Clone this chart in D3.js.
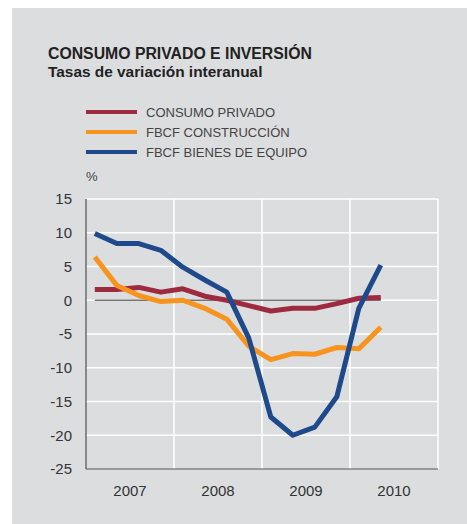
<!DOCTYPE html>
<html>
<head>
<meta charset="utf-8">
<script src="https://cdn.jsdelivr.net/npm/d3@7"></script>
<style>
  body { margin: 0; background: #fff; }
  text { font-family: "Liberation Sans", Arial, sans-serif; }
</style>
</head>
<body>
<div id="chart"></div>
<script>
// quarterly data, 2007 Q1 .. 2010 Q2
const quarters = ["I-07","II-07","III-07","IV-07","I-08","II-08","III-08","IV-08",
                  "I-09","II-09","III-09","IV-09","I-10","II-10"];
const years = ["2007", "2008", "2009", "2010"];
const yTicks = [15, 10, 5, 0, -5, -10, -15, -20, -25];

const consumo = [1.6, 1.6, 1.9, 1.2, 1.7, 0.6, 0.0, -0.8, -1.6, -1.2, -1.2, -0.5, 0.3, 0.4];
const construccion = [6.4, 2.2, 0.7, -0.2, 0.0, -1.2, -2.8, -6.8, -8.8, -7.9, -8.0, -7.0, -7.2, -4.0];
const equipo = [9.9, 8.4, 8.4, 7.4, 4.9, 3.0, 1.2, -5.6, -17.3, -20.0, -18.8, -14.3, -1.2, 5.2];

const seriesNames = ["CONSUMO PRIVADO", "FBCF CONSTRUCCIÓN", "FBCF BIENES DE EQUIPO"];
const seriesColors = ["#9e2a3f", "#f7941d", "#1e4a8c"];

const width = 467, height = 524;
const svg = d3.select("#chart").append("svg")
    .attr("width", width)
    .attr("height", height);

// panel background
svg.append("rect")
    .attr("x", 12).attr("y", 8)
    .attr("width", width - 12).attr("height", height - 8)
    .attr("fill", "#dcdddf");

svg.append("text")
    .attr("x", 48).attr("y", 59)
    .text("CONSUMO PRIVADO E INVERSIÓN")
    .style("font-size", "15.8px").style("font-weight", "bold").attr("fill", "#222");
svg.append("text")
    .attr("x", 48).attr("y", 77)
    .text("Tasas de variación interanual")
    .style("font-size", "15.4px").style("font-weight", "bold").attr("fill", "#222");

// legend
seriesNames.forEach((name, i) => {
    const y = 112 + i * 20;
    svg.append("line")
        .attr("x1", 86).attr("x2", 137)
        .attr("y1", y).attr("y2", y)
        .attr("stroke", seriesColors[i])
        .attr("stroke-width", 4);
    svg.append("text")
        .attr("x", 146).attr("y", y + 4.5)
        .text(name)
        .style("font-size", "13px").attr("fill", "#444");
});

svg.append("text")
    .attr("x", 86).attr("y", 181)
    .text("%")
    .style("font-size", "13px").attr("fill", "#444");

// scales
const x = d3.scaleLinear().domain([0, 16]).range([86, 438]);
const y = d3.scaleLinear().domain([-25, 15]).range([469, 199]);
const xPos = i => x(i + 0.4);

// grid
svg.append("g").selectAll("line")
    .data(yTicks.filter(d => d > -25))
    .join("line")
    .attr("x1", x(0)).attr("x2", x(16))
    .attr("y1", d => y(d)).attr("y2", d => y(d))
    .attr("stroke", "#fff").attr("stroke-width", 1.5);

svg.append("g").selectAll("line")
    .data(d3.range(1, 5))
    .join("line")
    .attr("x1", d => x(d * 4)).attr("x2", d => x(d * 4))
    .attr("y1", y(15)).attr("y2", y(-25))
    .attr("stroke", "#fff").attr("stroke-width", 1.5);

// axes
svg.append("line")
    .attr("x1", x(0)).attr("x2", x(0))
    .attr("y1", y(15)).attr("y2", y(-25))
    .attr("stroke", "#333").attr("stroke-width", 1);
svg.append("line")
    .attr("x1", x(0)).attr("x2", x(16))
    .attr("y1", y(-25)).attr("y2", y(-25))
    .attr("stroke", "#555").attr("stroke-width", 1);

svg.append("g").selectAll("text")
    .data(yTicks)
    .join("text")
    .attr("x", 72).attr("y", d => y(d))
    .attr("dy", "0.36em")
    .attr("text-anchor", "end")
    .text(d => d)
    .style("font-size", "15px").attr("fill", "#333");

svg.append("g").selectAll("text")
    .data(years)
    .join("text")
    .attr("x", (d, i) => x(i * 4 + 2))
    .attr("y", 496)
    .attr("text-anchor", "middle")
    .text(d => d)
    .style("font-size", "15px").attr("fill", "#333");

// zero line
svg.append("line")
    .attr("x1", xPos(0)).attr("x2", xPos(quarters.length - 1))
    .attr("y1", y(0)).attr("y2", y(0))
    .attr("stroke", "#777").attr("stroke-width", 1.5);

// series lines
const line = d3.line()
    .x((d, i) => xPos(i))
    .y(d => y(d));

[consumo, construccion, equipo].forEach((values, k) => {
    svg.append("path")
        .datum(values)
        .attr("d", line)
        .attr("fill", "none")
        .attr("stroke", seriesColors[k])
        .attr("stroke-width", 5)
        .attr("stroke-linejoin", "round");
});
</script>
</body>
</html>
